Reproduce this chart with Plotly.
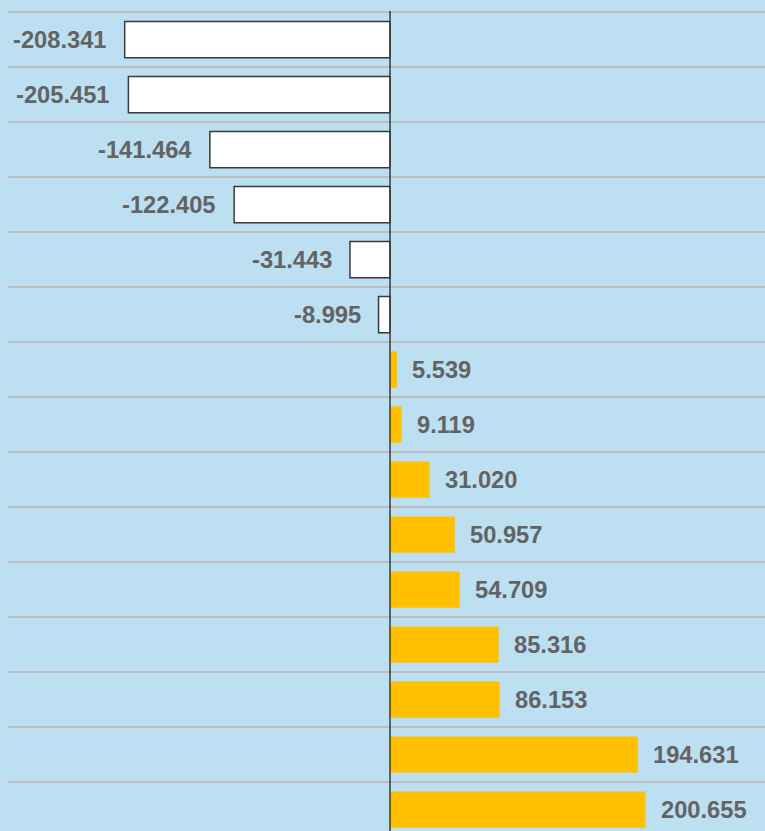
import plotly.graph_objects as go

values = [-208.341, -205.451, -141.464, -122.405, -31.443, -8.995,
          5.539, 9.119, 31.020, 50.957, 54.709, 85.316, 86.153, 194.631, 200.655]
labels = ["%.3f" % v for v in values]
positions = list(range(len(values)))

neg_idx = [i for i, v in enumerate(values) if v < 0]
pos_idx = [i for i, v in enumerate(values) if v >= 0]

fig = go.Figure()
fig.add_trace(go.Bar(
    x=[values[i] for i in neg_idx], y=[positions[i] for i in neg_idx],
    orientation="h", width=0.66,
    marker=dict(color="white", line=dict(color="#3a3a3a", width=1.5)),
    hoverinfo="skip", showlegend=False))
fig.add_trace(go.Bar(
    x=[values[i] for i in pos_idx], y=[positions[i] for i in pos_idx],
    orientation="h", width=0.66,
    marker=dict(color="#FFC000", line=dict(width=0)),
    hoverinfo="skip", showlegend=False))

for v, p, t in zip(values, positions, labels):
    fig.add_annotation(
        x=v, y=p, text="<b>%s</b>" % t, showarrow=False,
        xanchor="right" if v < 0 else "left",
        xshift=-16 if v < 0 else 13,
        font=dict(family="Liberation Sans, Arial", size=23.7, color="#636363"))

# zero line drawn above the bars
fig.add_shape(type="line", xref="x", yref="paper", x0=0, x1=0, y0=0, y1=1,
              line=dict(color="#3a3a3a", width=1.5), layer="above")

fig.update_layout(
    width=765, height=831,
    margin=dict(l=8, r=0, t=11, b=0),
    paper_bgcolor="#BDDFF2", plot_bgcolor="#BDDFF2",
    barmode="overlay",
    xaxis=dict(range=[-300, 294.5], showgrid=False, showticklabels=False,
               zeroline=False, fixedrange=True),
    yaxis=dict(range=[14.39, -0.52], tickvals=[i - 0.5 for i in range(len(values) + 1)],
               showticklabels=False, showgrid=True, gridcolor="#BDBDBD", gridwidth=2,
               zeroline=False, ticks="", fixedrange=True),
)

fig.write_html("out.html")
